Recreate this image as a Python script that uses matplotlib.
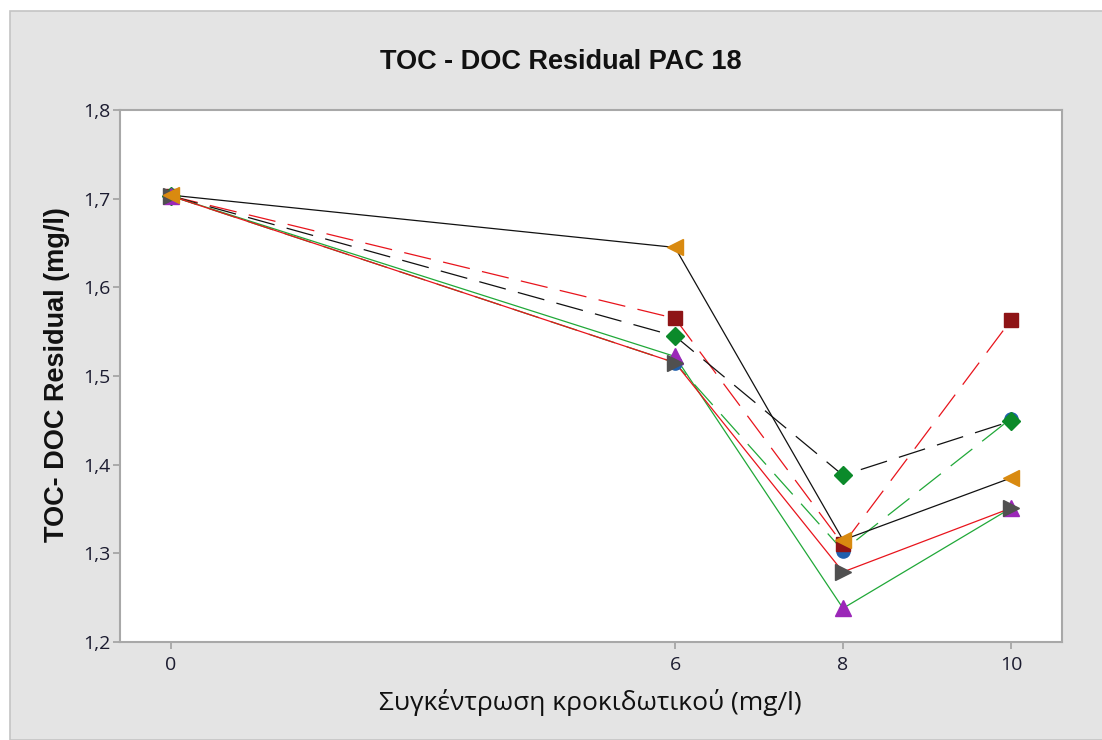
import matplotlib
matplotlib.use('Agg')
import matplotlib.pyplot as plt
from matplotlib.patches import Rectangle

# data
doses = [0, 6, 8, 10]
s_circle = [1.703, 1.515, 1.303, 1.452]
s_square = [1.703, 1.565, 1.310, 1.563]
s_diamond = [1.703, 1.545, 1.388, 1.449]
s_tri_up = [1.703, 1.522, 1.238, 1.351]
s_tri_right = [1.703, 1.515, 1.279, 1.351]
s_tri_left = [1.704, 1.645, 1.315, 1.385]

series = [
    (s_circle, 'o', '#1f5fad', '#20a838', 'dashed', 9.5),
    (s_square, 's', '#8e1416', '#e8141c', 'dashed', 10),
    (s_diamond, 'D', '#0b8a2a', '#111111', 'dashed', 9.5),
    (s_tri_up, '^', '#9b27b8', '#20a838', 'solid', 11.5),
    (s_tri_right, '>', '#505050', '#e8141c', 'solid', 11.5),
    (s_tri_left, '<', '#d98a10', '#111111', 'solid', 11.5),
]

plt.rcParams['font.family'] = ['Open Sans', 'DejaVu Sans']

fig = plt.figure(figsize=(11.02, 7.40), dpi=100)
fig.patch.set_facecolor('white')
bg = Rectangle((10 / 1102, 0), 1.0, 1 - 11 / 740, transform=fig.transFigure,
               facecolor='#e4e4e4', edgecolor='#c4c4c4', linewidth=1.2, zorder=-10)
fig.add_artist(bg)

ax = fig.add_axes([120 / 1102, 98 / 740, 942 / 1102, 532 / 740])
ax.set_zorder(1)
ax.set_facecolor('white')

for vals, mk, mcol, lcol, ls, ms in series:
    if ls == 'dashed':
        ax.plot(doses, vals, color=lcol, lw=0.9, dashes=(22, 10), zorder=2)
    else:
        ax.plot(doses, vals, color=lcol, lw=0.9, zorder=2)
for vals, mk, mcol, lcol, ls, ms in series:
    ax.plot(doses, vals, linestyle='none', marker=mk, markersize=ms,
            markerfacecolor=mcol, markeredgecolor=mcol, zorder=3)

ax.set_xlim(-0.607, 10.607)
ax.set_ylim(1.2, 1.8)
ax.set_xticks(doses)
ax.set_xticklabels([str(d) for d in doses])
yt = [1.2, 1.3, 1.4, 1.5, 1.6, 1.7, 1.8]
ax.set_yticks(yt)
ax.set_yticklabels([f'{v:.1f}'.replace('.', ',') for v in yt])

for sp in ax.spines.values():
    sp.set_color('#a8a8a8')
    sp.set_linewidth(1.5)
ax.tick_params(axis='both', colors='#a0a0a0', labelcolor='#1c1c30', labelsize=14,
               length=5, width=1.2, direction='out')
ax.tick_params(axis='x', pad=5)
ax.tick_params(axis='y', pad=2)

fig.text(590 / 1102, 1 - 703 / 740, 'Συγκέντρωση κροκιδωτικού (mg/l)', ha='center', va='center',
         fontsize=19, color='#111111')
fig.text(57 / 1102, 1 - 375 / 740, 'TOC- DOC Residual (mg/l)', ha='center', va='center',
         rotation=90, fontsize=19.5, fontweight='bold',
         family=['Liberation Sans', 'DejaVu Sans'], color='#111111')
fig.text(561 / 1102, 1 - 62 / 740, 'TOC - DOC Residual PAC 18', ha='center', va='center',
         fontsize=19.5, fontweight='bold', family=['Liberation Sans', 'DejaVu Sans'],
         color='#111111')

fig.savefig('out.png', dpi=100)
